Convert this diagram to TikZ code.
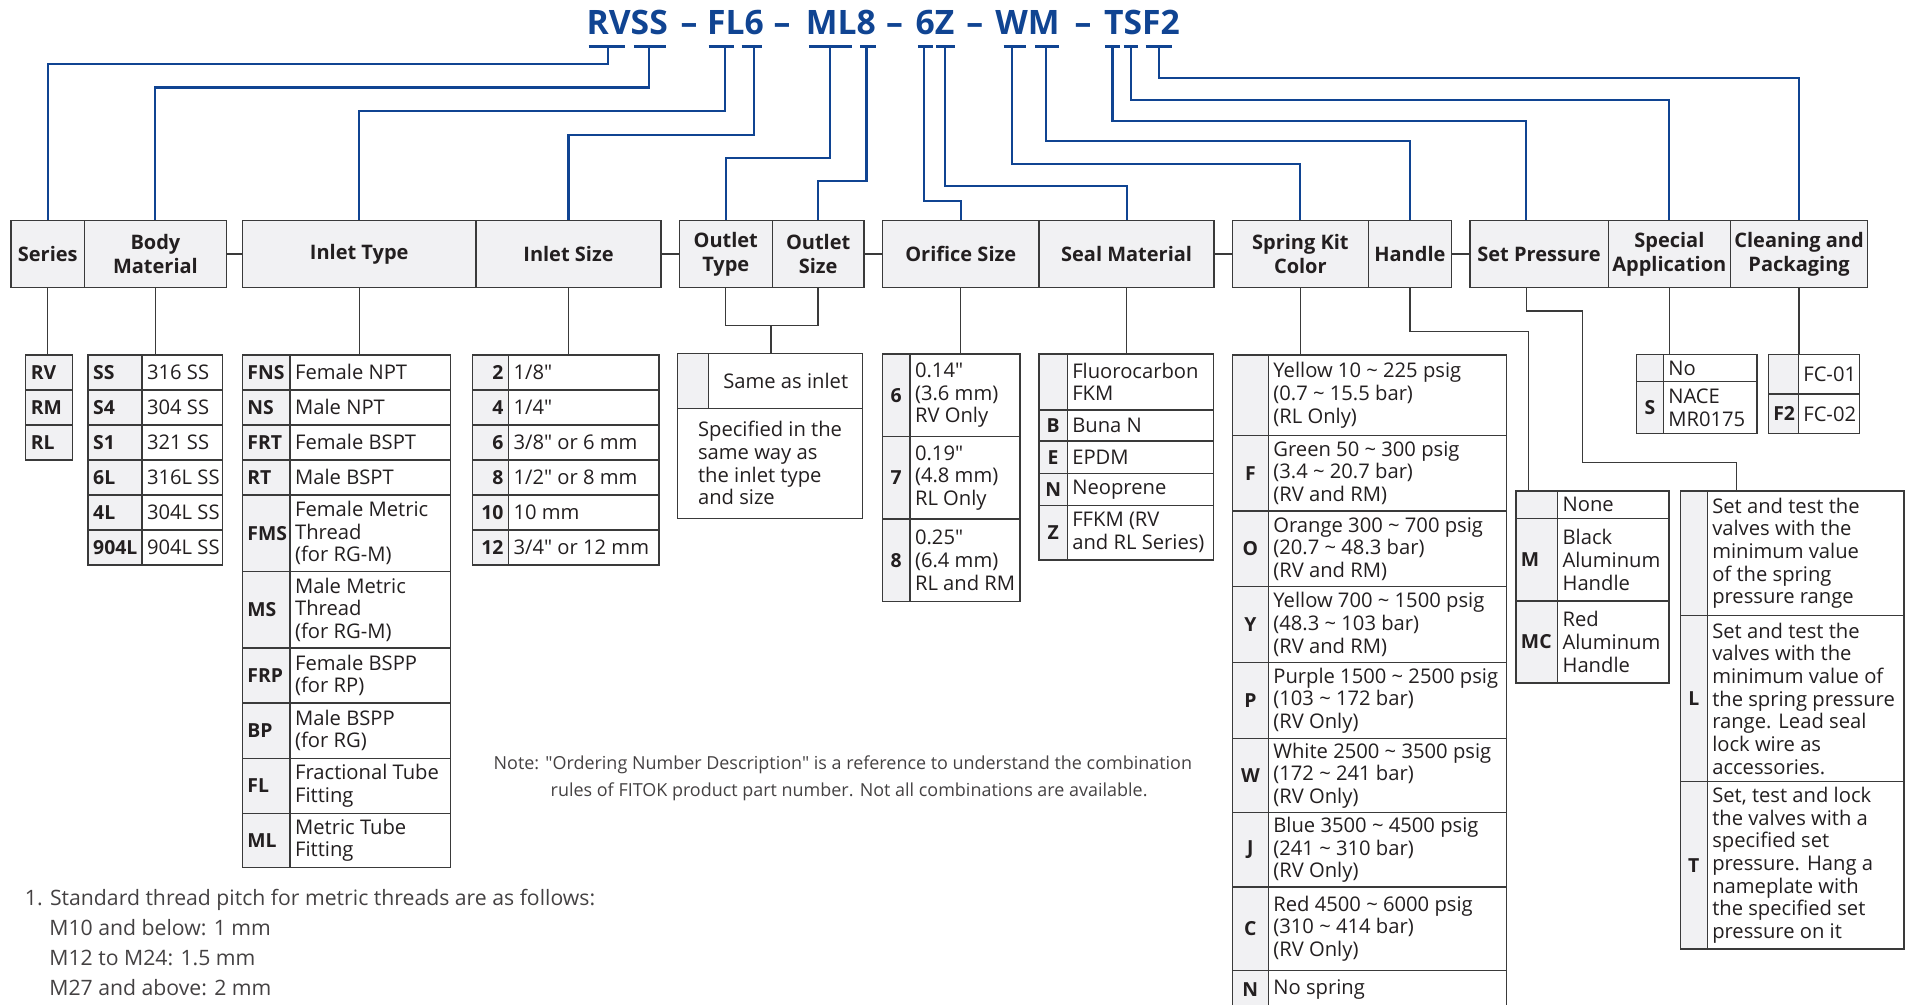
\documentclass[tikz,border=0pt]{standalone}
\usepackage{fontspec}
\setmainfont{Open Sans}[Ligatures=TeXOff]
\usepackage{tikz}
\usetikzlibrary{calc,positioning}
\definecolor{codeblue}{RGB}{16,68,146}
\definecolor{gridgray}{RGB}{58,58,58}
\definecolor{hdrgray}{RGB}{241,241,243}
\definecolor{inkblack}{RGB}{35,31,32}

\newcommand{\tildesign}{\textasciitilde}
% kind, text anchor, name, x1, y1, x2, y2, text
\newcommand{\optcell}[8]{%
  \pgfmathsetlengthmacro\cellw{(#6-#4)*0.6pt}%
  \pgfmathsetlengthmacro\cellh{(#7-#5)*0.6pt}%
  \node[#1box, minimum width=\cellw, minimum height=\cellh, anchor=north west] (#3) at (#4,#5) {};%
  \node[#1txt, anchor=#2] at (#3.#2) {#8};}

\tikzset{
  gridline/.style={draw=gridgray, line width=0.65pt},
  hdrbox/.style={gridline, fill=hdrgray, inner sep=0pt, outer sep=0pt},
  hdrtxt/.style={font=\fontsize{9.8}{11.8}\selectfont\bfseries, text=inkblack, align=center, inner sep=0pt},
  codebox/.style={gridline, fill=hdrgray, inner sep=0pt, outer sep=0pt},
  codetxt/.style={font=\fontsize{9.5}{11}\selectfont\bfseries, text=inkblack, inner xsep=2.3pt, inner ysep=0pt},
  descbox/.style={gridline, fill=white, inner sep=0pt, outer sep=0pt},
  desctxt/.style={font=\fontsize{9.9}{11.1}\selectfont, text=inkblack, align=left, inner xsep=2.3pt, inner ysep=0pt},
  link/.style={gridline},
  conn/.style={draw=codeblue, line width=1pt},
  tickbar/.style={draw=codeblue, line width=1.6pt},
  partno/.style={font=\fontsize{16.5}{18}\selectfont\bfseries, text=codeblue, anchor=base, inner sep=0pt},
  notetxt/.style={font=\fontsize{8.8}{13.2}\selectfont, text=inkblack!85, align=left, inner sep=0pt},
}

\begin{document}
\begin{tikzpicture}[x=0.6pt,y=-0.6pt]
\useasboundingbox (0,0) rectangle (1568,821);
\clip (0,0) rectangle (1568,821);

\foreach \t/\x [count=\i] in {RVSS/512.5, FL6/601, ML8/687, 6Z/764, WM/839.5, TSF2/933}
  \node[partno] (pn\i) at (\x,28.6) {\t};
\foreach \x [count=\i] in {563,639,731,796.5,885}
  \node[partno] (dash\i) at (\x,28.6) {–};

\optcell{hdr}{center}{series}{9}{180}{69}{235}{Series}
\optcell{hdr}{center}{body}{69}{180}{185}{235}{Body\\Material}
\optcell{hdr}{center}{itype}{198}{180}{389}{235}{Inlet Type}
\optcell{hdr}{center}{isize}{389}{180}{540}{235}{Inlet Size}
\optcell{hdr}{center}{otype}{555}{180}{631}{235}{Outlet\\Type}
\optcell{hdr}{center}{osize}{631}{180}{706}{235}{Outlet\\Size}
\optcell{hdr}{center}{orif}{721}{180}{849}{235}{Orifice Size}
\optcell{hdr}{center}{seal}{849}{180}{992}{235}{Seal Material}
\optcell{hdr}{center}{spring}{1007}{180}{1118}{235}{Spring Kit\\Color}
\optcell{hdr}{center}{handle}{1118}{180}{1186}{235}{Handle}
\optcell{hdr}{center}{setp}{1201}{180}{1314}{235}{Set Pressure}
\optcell{hdr}{center}{special}{1314}{180}{1414}{235}{Special\\Application}
\optcell{hdr}{center}{clean}{1414}{180}{1526}{235}{Cleaning and\\Packaging}

\draw[link] (body.east) -- (itype.west);
\draw[link] (isize.east) -- (otype.west);
\draw[link] (osize.east) -- (orif.west);
\draw[link] (seal.east) -- (spring.west);
\draw[link] (handle.east) -- (setp.west);

\coordinate (spin) at ([xshift=-6.3pt]setp.north);
\coordinate (spout) at ([xshift=-6.3pt]setp.south);
\foreach \nm/\x/\l/\r in {RV/497/16/14, SS/530/12/14, FL/592/13/8, IS/616/10/7, ML/678/17/18, OS/708/5/8,
    OR/755/5/7, SM/772/7/8, SK/827/7/11, HD/855/9/10, SP/909/6/6, SA/924/6/6, CP/947/11/11}{
  \coordinate (t\nm) at (\x,38);
  \draw[tickbar] (\x-\l,38) -- (\x+\r,38);
}
\foreach \nm/\d/\tg in {RV/14/series.north, SS/33.5/body.north, FL/53/itype.north, IS/72/isize.north,
    ML/91/otype.north, OS/110/osize.north, OR/126/orif.north, SM/114/seal.north, SK/96/spring.north,
    HD/77/handle.north, SP/60.6/spin, SA/44/special.north, CP/26/clean.north}
  \draw[conn] (t\nm) -- ++(0,\d) -| (\tg);

\foreach \cd [count=\i] in {RV,RM,RL}{
  \pgfmathsetmacro\ya{290+(\i-1)*28.6}
  \pgfmathsetmacro\yb{\ya+28.6}
  \optcell{code}{west}{sr\i}{21}{\ya}{59}{\yb}{\cd}
}
\foreach \cd/\ds [count=\i] in {SS/316 SS, S4/304 SS, S1/321 SS, 6L/316L SS, 4L/304L SS, 904L/904L SS}{
  \pgfmathsetmacro\ya{290+(\i-1)*28.6}
  \pgfmathsetmacro\yb{\ya+28.6}
  \optcell{code}{west}{bm\i}{72}{\ya}{116}{\yb}{\cd}
  \optcell{desc}{west}{bd\i}{116}{\ya}{182}{\yb}{\ds}
}
\foreach \cd/\ds/\ya/\yb [count=\i] in {FNS/Female NPT/290/318.6, NS/Male NPT/318.6/347.2,
    FRT/Female BSPT/347.2/375.8, RT/Male BSPT/375.8/404.4,
    FMS/{Female Metric\\Thread\\(for RG-M)}/404.4/467, MS/{Male Metric\\Thread\\(for RG-M)}/467/529.4,
    FRP/{Female BSPP\\(for RP)}/529.4/574.4, BP/{Male BSPP\\(for RG)}/574.4/619.5,
    FL/{Fractional Tube\\Fitting}/619.5/664.6, ML/{Metric Tube\\Fitting}/664.6/708.8}{
  \optcell{code}{west}{it\i}{198}{\ya}{237}{\yb}{\cd}
  \optcell{desc}{west}{itd\i}{237}{\ya}{368}{\yb}{\ds}
}
\foreach \cd/\ds [count=\i] in {2/{1/8"}, 4/{1/4"}, 6/{3/8" or 6 mm}, 8/{1/2" or 8 mm}, 10/10 mm, 12/{3/4" or 12 mm}}{
  \pgfmathsetmacro\ya{290+(\i-1)*28.6}
  \pgfmathsetmacro\yb{\ya+28.6}
  \optcell{code}{east}{sz\i}{386}{\ya}{415.5}{\yb}{\cd}
  \optcell{desc}{west}{szd\i}{415.5}{\ya}{538.5}{\yb}{\ds}
}
\optcell{code}{center}{oc1}{553.4}{288.7}{579}{333.6}{}
\optcell{desc}{center}{od1}{579}{288.7}{705}{333.6}{Same as inlet}
\optcell{desc}{center}{od2}{553.4}{333.6}{705}{423.5}{Specified in the\\same way as\\the inlet type\\and size}
\foreach \cd/\ds/\ya/\yb [count=\i] in {6/{0.14"\\(3.6 mm)\\RV Only}/289.2/356.8,
    7/{0.19"\\(4.8 mm)\\RL Only}/356.8/424, 8/{0.25"\\(6.4 mm)\\RL and RM}/424/491.6}{
  \optcell{code}{center}{or\i}{721}{\ya}{743.5}{\yb}{\cd}
  \optcell{desc}{west}{ord\i}{743.5}{\ya}{833.3}{\yb}{\ds}
}
\foreach \cd/\ds/\ya/\yb [count=\i] in {{}/{Fluorocarbon\\FKM}/289.2/335, B/Buna N/335/360.3,
    E/EPDM/360.3/386.7, N/Neoprene/386.7/413, Z/{FFKM (RV\\and RL Series)}/413/457.5}{
  \optcell{code}{center}{se\i}{849}{\ya}{872}{\yb}{\cd}
  \optcell{desc}{west}{sed\i}{872}{\ya}{991.3}{\yb}{\ds}
}
\foreach \cd/\ds/\ya/\yb [count=\i] in {
    {}/{Yellow 10 \tildesign{} 225 psig\\(0.7 \tildesign{} 15.5 bar)\\(RL Only)}/290/355.7,
    F/{Green 50 \tildesign{} 300 psig\\(3.4 \tildesign{} 20.7 bar)\\(RV and RM)}/355.7/417.5,
    O/{Orange 300 \tildesign{} 700 psig\\(20.7 \tildesign{} 48.3 bar)\\(RV and RM)}/417.5/479.4,
    Y/{Yellow 700 \tildesign{} 1500 psig\\(48.3 \tildesign{} 103 bar)\\(RV and RM)}/479.4/541.1,
    P/{Purple 1500 \tildesign{} 2500 psig\\(103 \tildesign{} 172 bar)\\(RV Only)}/541.1/603.5,
    W/{White 2500 \tildesign{} 3500 psig\\(172 \tildesign{} 241 bar)\\(RV Only)}/603.5/664.1,
    J/{Blue 3500 \tildesign{} 4500 psig\\(241 \tildesign{} 310 bar)\\(RV Only)}/664.1/724.7,
    C/{Red 4500 \tildesign{} 6000 psig\\(310 \tildesign{} 414 bar)\\(RV Only)}/724.7/793,
    N/No spring/793/824}{
  \optcell{code}{center}{sk\i}{1007}{\ya}{1036.3}{\yb}{\cd}
  \optcell{desc}{west}{skd\i}{1036.3}{\ya}{1231}{\yb}{\ds}
}
\foreach \cd/\ds/\ya/\yb [count=\i] in {{}/None/401.2/423.8, M/{Black\\Aluminum\\Handle}/423.8/491,
    MC/{Red\\Aluminum\\Handle}/491/558.2}{
  \optcell{code}{west}{hd\i}{1238.6}{\ya}{1272.6}{\yb}{\cd}
  \optcell{desc}{west}{hdd\i}{1272.6}{\ya}{1363.8}{\yb}{\ds}
}
\foreach \cd/\ds/\ya/\yb [count=\i] in {{}/No/289.7/311.7, S/{NACE\\MR0175}/311.7/354.3}{
  \optcell{code}{center}{sa\i}{1337.2}{\ya}{1359}{\yb}{\cd}
  \optcell{desc}{west}{sad\i}{1359}{\ya}{1435.5}{\yb}{\ds}
}
\foreach \cd/\ds/\ya/\yb [count=\i] in {{}/FC-01/289.7/322, F2/FC-02/322/354.3}{
  \optcell{code}{west}{cp\i}{1444.8}{\ya}{1469.3}{\yb}{\cd}
  \optcell{desc}{west}{cpd\i}{1469.3}{\ya}{1519.6}{\yb}{\ds}
}
\foreach \cd/\ds/\ya/\yb [count=\i] in {
    {}/{Set and test the\\valves with the\\minimum value\\of the spring\\pressure range}/401.2/503,
    L/{Set and test the\\valves with the\\minimum value of\\the spring pressure\\range. Lead seal\\lock wire as\\accessories.}/503/638.6,
    T/{Set, test and lock\\the valves with a\\specified set\\pressure. Hang a\\nameplate with\\the specified set\\pressure on it}/638.6/775.3}{
  \optcell{code}{center}{sp\i}{1373.1}{\ya}{1394.9}{\yb}{\cd}
  \optcell{desc}{west}{spd\i}{1394.9}{\ya}{1555.6}{\yb}{\ds}
}

\draw[link] (series.south) -- (series.south |- sr1.north);
\draw[link] (body.south) -- (body.south |- bm1.north);
\draw[link] (itype.south) -- (itype.south |- it1.north);
\draw[link] (isize.south) -- (isize.south |- sz1.north);
\coordinate (ojoin) at (630,266);
\draw[link] (otype.south) |- (ojoin) -| (osize.south);
\draw[link] (ojoin) -- (ojoin |- oc1.north);
\draw[link] (orif.south) -- (orif.south |- or1.north);
\draw[link] (seal.south) -- (seal.south |- se1.north);
\draw[link] (spring.south) -- (spring.south |- sk1.north);
\coordinate (hjog) at (1249,271);
\draw[link] (handle.south) |- (hjog) -- (hjog |- hd1.north);
\coordinate (sjog1) at (1293,254);
\coordinate (sjog2) at (1419,378);
\draw[link] (spout) |- (sjog1) |- (sjog2) -- (sjog2 |- sp1.north);
\draw[link] (special.south) -- (special.south |- sa1.north);
\draw[link] (clean.south) -- (clean.south |- cp1.north);

\node[notetxt, anchor=north west] (note) at (403,617) {Note: "Ordering Number Description" is a reference to understand the combination\\
  \hspace*{28pt}rules of FITOK product part number. Not all combinations are available.};
\node[notetxt, font=\fontsize{10.4}{14.7}\selectfont, anchor=north west] (pitch) at (20,726) {1. Standard thread pitch for metric threads are as follows:\\
  \hspace*{12pt}M10 and below: 1 mm\\
  \hspace*{12pt}M12 to M24: 1.5 mm\\
  \hspace*{12pt}M27 and above: 2 mm};
\end{tikzpicture}
\end{document}
